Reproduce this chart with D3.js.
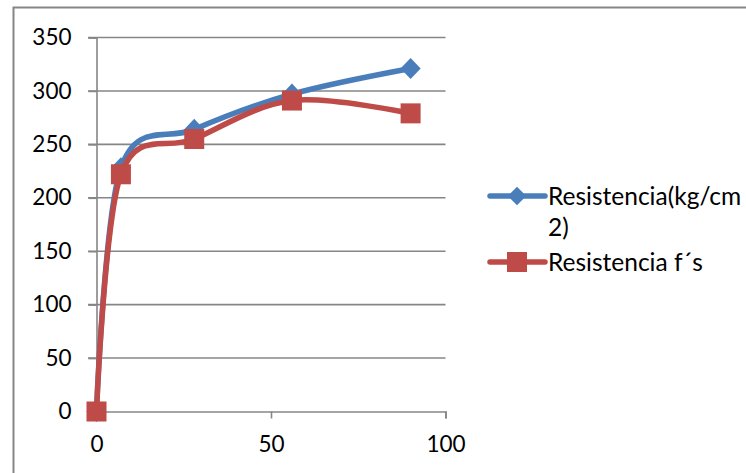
<!DOCTYPE html>
<html>
<head>
<meta charset="utf-8">
<script src="https://cdn.jsdelivr.net/npm/d3@7"></script>
<style>
  html, body { margin: 0; padding: 0; background: #fff; }
  svg { display: block; }
  text { font-family: Lato, "Open Sans", sans-serif; fill: #000; }
</style>
</head>
<body>
<svg id="chart" width="746" height="473"></svg>
<script>
// Age of the specimens (days)
const days = [0, 7, 28, 56, 90];
// Compressive strength series
const resistenciaKg = [0, 228, 264, 297, 321];
const resistenciaFs = [0, 222, 255, 291, 279];
const seriesNames = ["Resistencia(kg/cm 2)", "Resistencia f\u00b4s"];
const yTicks = [0, 50, 100, 150, 200, 250, 300, 350];
const xTicks = [0, 50, 100];

const svg = d3.select("#chart");
const blue = "#4A7EBB", red = "#BE4B48", grid = "#868686";

const x = d3.scaleLinear().domain([0, 100]).range([96.5, 445.5]);
const y = d3.scaleLinear().domain([0, 350]).range([411.5, 37.5]);

// outer chart frame (top and left edges visible)
svg.append("path")
  .attr("d", "M13.5,473 L13.5,7.5 L746,7.5")
  .attr("fill", "none").attr("stroke", grid).attr("stroke-width", 2);

// horizontal gridlines with left tick stubs
svg.append("g").selectAll("line").data(yTicks.filter(d => d > 0)).join("line")
  .attr("x1", 88).attr("x2", x(100))
  .attr("y1", d => y(d)).attr("y2", d => y(d))
  .attr("stroke", grid).attr("stroke-width", 1.6);

// y axis
const yAxis = d3.axisLeft(y).tickValues(yTicks).tickSize(8).tickPadding(17).tickFormat(d3.format("d"));
const gy = svg.append("g").attr("transform", `translate(${x(0)},0)`).call(yAxis);
// x axis
const xAxis = d3.axisBottom(x).tickValues(xTicks).tickSize(7).tickPadding(18).tickFormat(d3.format("d"));
const gx = svg.append("g").attr("transform", `translate(0,${y(0)})`).call(xAxis);

[gy, gx].forEach(g => {
  g.select(".domain").attr("stroke", grid).attr("stroke-width", 1.6);
  g.selectAll(".tick line").attr("stroke", grid).attr("stroke-width", 1.6);
  g.selectAll(".tick text").attr("font-size", 22.5).attr("font-family", "Lato, sans-serif").attr("fill", "#000");
});
gx.selectAll(".tick").filter(d => d === 0).select("line").remove();
gy.selectAll(".tick").filter(d => d === 0).select("line").attr("x2", -8);

const line = d3.line().x((d, i) => x(days[i])).y(d => y(d)).curve(d3.curveCardinal.tension(0));

const diamond = d3.symbol().type(d3.symbolDiamond2).size(260);

function drawSeries(vals, color, marker) {
  svg.append("path").datum(vals)
    .attr("d", line).attr("fill", "none")
    .attr("stroke", color).attr("stroke-width", 5.5)
    .attr("stroke-linejoin", "round").attr("stroke-linecap", "round");
  const g = svg.append("g");
  vals.forEach((v, i) => {
    if (marker === "diamond") {
      g.append("path").attr("d", diamond())
        .attr("transform", `translate(${x(days[i])},${y(v)}) scale(1,1.05)`)
        .attr("fill", color);
    } else {
      g.append("rect")
        .attr("x", x(days[i]) - 10).attr("y", y(v) - 10)
        .attr("width", 20).attr("height", 20).attr("fill", color);
    }
  });
}

drawSeries(resistenciaKg, blue, "diamond");
drawSeries(resistenciaFs, red, "square");

// legend
const legend = svg.append("g");
const legendRows = [
  { name: seriesNames[0], color: blue, marker: "diamond", y: 196, lines: ["Resistencia(kg/cm", "2)"] },
  { name: seriesNames[1], color: red, marker: "square", y: 262, lines: ["Resistencia f\u00b4s"] }
];
legendRows.forEach(r => {
  legend.append("line").attr("x1", 490).attr("x2", 545)
    .attr("y1", r.y).attr("y2", r.y)
    .attr("stroke", r.color).attr("stroke-width", 5.5).attr("stroke-linecap", "round");
  if (r.marker === "diamond") {
    legend.append("path").attr("d", d3.symbol().type(d3.symbolDiamond2).size(220)())
      .attr("transform", `translate(517,${r.y})`).attr("fill", r.color);
  } else {
    legend.append("rect").attr("x", 507).attr("y", r.y - 10)
      .attr("width", 20).attr("height", 20).attr("fill", r.color);
  }
  const t = legend.append("text").attr("x", 548).attr("y", r.y + 9).attr("font-size", 24.5);
  r.lines.forEach((s, i) => {
    t.append("tspan").attr("x", 548).attr("dy", i === 0 ? 0 : 31).text(s);
  });
});
</script>
</body>
</html>
